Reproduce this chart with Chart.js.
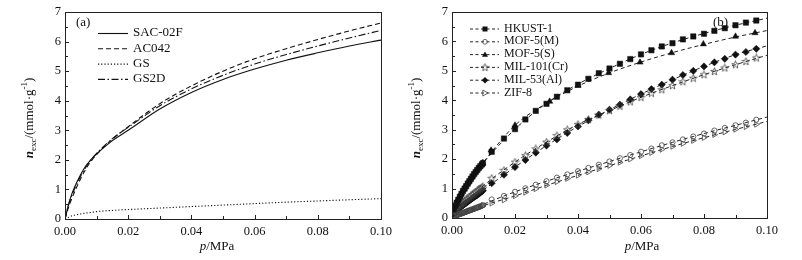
<!DOCTYPE html>
<html>
<head>
<meta charset="utf-8">
<script src="https://cdn.jsdelivr.net/npm/chart.js@4.4.1/dist/chart.umd.min.js"></script>
<style>
html, body { margin: 0; padding: 0; background: #fff; }
#wrap { position: relative; width: 802px; height: 260px; }
#chartA { position: absolute; left: 0; top: 0; width: 400px; height: 260px; }
#chartB { position: absolute; left: 400px; top: 0; width: 402px; height: 260px; }
</style>
</head>
<body>
<div id="wrap">
  <canvas id="chartA" width="400" height="260"></canvas>
  <canvas id="chartB" width="402" height="260"></canvas>
</div>
<script>
// ---- (a) carbon adsorbents, fitted isotherms ----
const pA = [0, 0.001, 0.002, 0.004, 0.006, 0.008, 0.01, 0.015, 0.02, 0.03, 0.04, 0.05, 0.06, 0.07, 0.08, 0.09, 0.1];
const sac02f = [0, 0.45, 0.8, 1.3, 1.7, 1.98, 2.2, 2.65, 3.0, 3.72, 4.28, 4.72, 5.07, 5.37, 5.62, 5.85, 6.05];
const ac042 = [0, 0.35, 0.65, 1.15, 1.58, 1.92, 2.18, 2.7, 3.12, 3.9, 4.5, 5.0, 5.42, 5.76, 6.07, 6.36, 6.63];
const gs = [0, 0.05, 0.1, 0.15, 0.19, 0.22, 0.25, 0.29, 0.32, 0.37, 0.42, 0.47, 0.52, 0.57, 0.61, 0.65, 0.69];
const gs2d = [0, 0.42, 0.75, 1.25, 1.65, 1.97, 2.22, 2.72, 3.1, 3.83, 4.4, 4.86, 5.24, 5.56, 5.85, 6.12, 6.38];

// ---- (b) MOFs, measured points + fitted lines ----
const pLow = [0.0005, 0.001, 0.0015, 0.002, 0.0025, 0.003, 0.0035, 0.004, 0.0045, 0.005, 0.0055, 0.006, 0.0065, 0.007, 0.0075, 0.008, 0.0085, 0.009, 0.0095, 0.0098];
const pHigh = [0.0126, 0.0165, 0.02, 0.0233, 0.0266, 0.03, 0.0333, 0.0366, 0.04, 0.0433, 0.0466, 0.05, 0.0533, 0.0566, 0.06, 0.0633, 0.0666, 0.07, 0.0733, 0.0766, 0.08, 0.0833, 0.0866, 0.09, 0.0933, 0.0966];
const pMof5S = [0.0124, 0.02, 0.031, 0.04, 0.0497, 0.0597, 0.0697, 0.0798, 0.09, 0.0962];

const hkustLow = [0.3, 0.42, 0.52, 0.62, 0.72, 0.82, 0.92, 1.0, 1.08, 1.17, 1.25, 1.33, 1.41, 1.49, 1.56, 1.63, 1.7, 1.76, 1.82, 1.86];
const hkustHigh = [2.25, 2.7, 3.02, 3.35, 3.64, 3.88, 4.12, 4.34, 4.53, 4.73, 4.92, 5.08, 5.24, 5.4, 5.56, 5.7, 5.83, 5.94, 6.07, 6.17, 6.26, 6.36, 6.45, 6.55, 6.64, 6.71];
const mof5mLow = [0.06, 0.08, 0.1, 0.12, 0.14, 0.16, 0.18, 0.2, 0.22, 0.24, 0.26, 0.28, 0.3, 0.32, 0.34, 0.36, 0.38, 0.4, 0.42, 0.44];
const mof5mHigh = [0.63, 0.75, 0.89, 1.01, 1.13, 1.25, 1.37, 1.48, 1.59, 1.7, 1.81, 1.92, 2.03, 2.14, 2.25, 2.36, 2.47, 2.57, 2.67, 2.77, 2.87, 2.97, 3.06, 3.15, 3.24, 3.34];
const mof5sLow = [0.32, 0.45, 0.56, 0.66, 0.76, 0.86, 0.95, 1.04, 1.12, 1.2, 1.28, 1.36, 1.44, 1.51, 1.58, 1.65, 1.72, 1.78, 1.84, 1.88];
const mof5sHigh = [2.3, 3.15, 3.96, 4.5, 4.93, 5.29, 5.61, 5.91, 6.17, 6.29];
const mil101Low = [0.2, 0.26, 0.32, 0.37, 0.42, 0.47, 0.52, 0.57, 0.62, 0.66, 0.71, 0.75, 0.8, 0.84, 0.88, 0.92, 0.96, 1.0, 1.04, 1.07];
const mil101High = [1.35, 1.62, 1.9, 2.12, 2.35, 2.58, 2.8, 3.0, 3.18, 3.35, 3.5, 3.65, 3.8, 3.95, 4.1, 4.24, 4.36, 4.5, 4.63, 4.75, 4.87, 4.98, 5.1, 5.21, 5.32, 5.44];
const mil53Low = [0.15, 0.2, 0.25, 0.3, 0.35, 0.39, 0.43, 0.47, 0.51, 0.55, 0.59, 0.63, 0.67, 0.71, 0.74, 0.78, 0.82, 0.86, 0.9, 0.93];
const mil53High = [1.18, 1.47, 1.73, 1.97, 2.22, 2.46, 2.67, 2.89, 3.11, 3.32, 3.51, 3.68, 3.85, 4.03, 4.21, 4.38, 4.53, 4.7, 4.86, 5.0, 5.15, 5.29, 5.41, 5.55, 5.64, 5.75];
const zif8Low = [0.03, 0.05, 0.07, 0.09, 0.11, 0.13, 0.15, 0.17, 0.19, 0.21, 0.23, 0.25, 0.27, 0.29, 0.31, 0.33, 0.35, 0.37, 0.39, 0.41];
const zif8High = [0.5, 0.61, 0.75, 0.87, 0.99, 1.11, 1.23, 1.34, 1.45, 1.56, 1.67, 1.78, 1.89, 2.0, 2.11, 2.22, 2.33, 2.43, 2.53, 2.63, 2.73, 2.83, 2.92, 3.01, 3.1, 3.18];

const pFit = [0, 0.0025, 0.005, 0.01, 0.02, 0.03, 0.04, 0.05, 0.06, 0.07, 0.08, 0.09, 0.1];
const hkustFit = [0.1, 0.72, 1.17, 1.88, 3.02, 3.9, 4.55, 5.08, 5.56, 5.95, 6.27, 6.55, 6.79];
const mof5mFit = [0, 0.15, 0.26, 0.47, 0.89, 1.25, 1.59, 1.92, 2.25, 2.57, 2.87, 3.15, 3.43];
const mof5sFit = [0.1, 0.76, 1.2, 1.9, 3.15, 3.9, 4.48, 4.93, 5.3, 5.62, 5.9, 6.15, 6.37];
const mil101Fit = [0.05, 0.35, 0.6, 1.1, 1.9, 2.58, 3.18, 3.65, 4.1, 4.5, 4.87, 5.21, 5.53];
const mil53Fit = [0, 0.28, 0.5, 0.95, 1.73, 2.46, 3.11, 3.68, 4.21, 4.7, 5.15, 5.55, 5.85];
const zif8Fit = [0, 0.12, 0.22, 0.42, 0.75, 1.11, 1.45, 1.78, 2.11, 2.43, 2.73, 3.01, 3.28];

const serif = '"Liberation Serif", "Times New Roman", serif';
const ink = '#111';

function pts(xs, ys) { return xs.map((x, i) => ({ x: x, y: ys[i] })); }

// small open star used as marker for MIL-101(Cr)
const starImg = document.createElement('canvas');
starImg.width = 9; starImg.height = 9;
(function () {
    const c = starImg.getContext('2d');
    c.beginPath();
    for (let i = 0; i < 10; i++) {
        const r = i % 2 === 0 ? 4 : 1.7;
        const a = -Math.PI / 2 + i * Math.PI / 5;
        const px = 4.5 + r * Math.cos(a), py = 4.7 + r * Math.sin(a);
        if (i === 0) c.moveTo(px, py); else c.lineTo(px, py);
    }
    c.closePath();
    c.strokeStyle = '#444';
    c.lineWidth = 0.8;
    c.stroke();
})();

// frame, inward ticks, axis titles, legend, panel tag
function decor(cfg) {
    return {
        id: 'decor',
        afterDraw(chart) {
            const ctx = chart.ctx, a = chart.chartArea;
            const xs = chart.scales.x, ys = chart.scales.y;
            ctx.save();
            ctx.strokeStyle = '#222';
            ctx.lineWidth = 1;
            ctx.strokeRect(Math.round(a.left) + 0.5, Math.round(a.top) + 0.5, Math.round(a.right - a.left), Math.round(a.bottom - a.top));
            ctx.beginPath();
            for (let k = 1; k < 10; k++) {
                const px = Math.round(xs.getPixelForValue(k / 100)) + 0.5;
                const len = k % 2 === 0 ? 4 : 3;
                ctx.moveTo(px, a.bottom); ctx.lineTo(px, a.bottom - len);
            }
            for (let k = 1; k < 14; k++) {
                const py = Math.round(ys.getPixelForValue(k / 2)) + 0.5;
                const len = k % 2 === 0 ? 4 : 3;
                ctx.moveTo(a.left, py); ctx.lineTo(a.left + len, py);
            }
            ctx.stroke();

            // x title: p/MPa
            ctx.fillStyle = ink;
            ctx.textBaseline = 'middle';
            ctx.font = 'italic 13px ' + serif;
            const w1 = ctx.measureText('p').width;
            ctx.font = '13px ' + serif;
            const w2 = ctx.measureText('/MPa').width;
            let x0 = cfg.xTitleX - (w1 + w2) / 2;
            ctx.font = 'italic 13px ' + serif;
            ctx.fillText('p', x0, 247);
            ctx.font = '13px ' + serif;
            ctx.fillText('/MPa', x0 + w1, 247);

            // y title: n_exc/(mmol·g-1)
            ctx.save();
            ctx.translate(cfg.yTitleX, 118);
            ctx.rotate(-Math.PI / 2);
            const parts = [
                ['n', 'italic bold 13px ' + serif, 0],
                ['exc', '9px ' + serif, 4],
                ['/(mmol·g', '13px ' + serif, 0],
                ['-1', '9px ' + serif, -5],
                [')', '13px ' + serif, 0]
            ];
            let tw = 0;
            parts.forEach(p => { ctx.font = p[1]; tw += ctx.measureText(p[0]).width; });
            let cx = -tw / 2;
            parts.forEach(p => {
                ctx.font = p[1];
                ctx.fillText(p[0], cx, p[2]);
                cx += ctx.measureText(p[0]).width;
            });
            ctx.restore();

            // panel tag
            ctx.font = '13px ' + serif;
            ctx.fillText(cfg.tag, cfg.tagX, 23);

            cfg.legend(ctx);
            ctx.restore();
        }
    };
}

function baseScales(rightPad) {
    return {
        x: {
            type: 'linear', min: 0, max: 0.1,
            afterFit(s) { s.height = 41; },
            grid: { display: false, drawTicks: false },
            border: { display: false },
            ticks: { stepSize: 0.02, padding: 5, color: ink, font: { family: serif, size: 12.5 },
                     callback: v => v.toFixed(2), maxRotation: 0 }
        },
        y: {
            type: 'linear', min: 0, max: 7,
            grid: { display: false, drawTicks: false },
            border: { display: false },
            ticks: { stepSize: 1, padding: 4, color: ink, font: { family: serif, size: 12.5 } }
        }
    };
}

// ---- panel (a) ----
const legendA = [
    ['SAC-02F', []],
    ['AC042', [5, 3]],
    ['GS', [1.2, 2]],
    ['GS2D', [7, 2.5, 1.5, 2.5]]
];
const scalesA = baseScales();
scalesA.y.afterFit = s => { s.width = 65; };

new Chart(document.getElementById('chartA'), {
    type: 'scatter',
    data: {
        datasets: [sac02f, ac042, gs, gs2d].map((vals, i) => ({
            label: legendA[i][0],
            data: pts(pA, vals),
            showLine: true,
            borderColor: ink,
            borderWidth: 1.1,
            borderDash: legendA[i][1],
            pointRadius: 0,
            cubicInterpolationMode: 'monotone'
        }))
    },
    options: {
        responsive: false,
        devicePixelRatio: 1,
        animation: false,
        layout: { autoPadding: false, padding: { left: 0, right: 19, top: 12, bottom: 0 } },
        plugins: { legend: { display: false }, tooltip: { enabled: false } },
        scales: scalesA
    },
    plugins: [decor({
        xTitleX: 217, yTitleX: 30, tag: '(a)', tagX: 76,
        legend(ctx) {
            legendA.forEach((row, i) => {
                const y = 33 + i * 15.3;
                ctx.beginPath();
                ctx.setLineDash(row[1]);
                ctx.lineWidth = 1.1;
                ctx.strokeStyle = ink;
                ctx.moveTo(98, y + 0.5); ctx.lineTo(128, y + 0.5);
                ctx.stroke();
                ctx.setLineDash([]);
                ctx.font = '13px ' + serif;
                ctx.fillText(row[0], 133, y);
            });
        }
    })]
});

// ---- panel (b) ----
const namesB = ['HKUST-1', 'MOF-5(M)', 'MOF-5(S)', 'MIL-101(Cr)', 'MIL-53(Al)', 'ZIF-8'];
const marks = [
    { pointStyle: 'rect', pointRadius: 3.8, backgroundColor: ink, borderColor: ink, borderWidth: 0.5 },
    { pointStyle: 'circle', pointRadius: 2.6, backgroundColor: 'rgba(0,0,0,0)', borderColor: '#444', borderWidth: 0.8 },
    { pointStyle: 'triangle', pointRadius: 3.6, backgroundColor: ink, borderColor: ink, borderWidth: 0.5 },
    { pointStyle: starImg },
    { pointStyle: 'rectRot', pointRadius: 3.6, backgroundColor: ink, borderColor: ink, borderWidth: 0.5 },
    { pointStyle: 'triangle', pointRotation: 90, pointRadius: 3.2, backgroundColor: 'rgba(0,0,0,0)', borderColor: '#444', borderWidth: 0.8 }
];
const measured = [
    pts(pLow.concat(pHigh), hkustLow.concat(hkustHigh)),
    pts(pLow.concat(pHigh), mof5mLow.concat(mof5mHigh)),
    pts(pLow.concat(pMof5S), mof5sLow.concat(mof5sHigh)),
    pts(pLow.concat(pHigh), mil101Low.concat(mil101High)),
    pts(pLow.concat(pHigh), mil53Low.concat(mil53High)),
    pts(pLow.concat(pHigh), zif8Low.concat(zif8High))
];
const fits = [hkustFit, mof5mFit, mof5sFit, mil101Fit, mil53Fit, zif8Fit];

const dsB = [];
measured.forEach((d, i) => {
    dsB.push(Object.assign({ label: namesB[i], data: d, showLine: false }, marks[i]));
});
fits.forEach((f, i) => {
    dsB.push({
        label: namesB[i] + ' fit', data: pts(pFit, f), showLine: true,
        borderColor: '#222', borderWidth: 1, borderDash: [4, 3], pointRadius: 0,
        cubicInterpolationMode: 'monotone'
    });
});

function legendMark(ctx, i, x, y) {
    ctx.save();
    ctx.fillStyle = ink; ctx.strokeStyle = '#444'; ctx.lineWidth = 0.8;
    ctx.beginPath();
    if (i === 0) { ctx.fillRect(x - 2.5, y - 2.5, 5, 5); }
    else if (i === 1) { ctx.arc(x, y, 2.4, 0, Math.PI * 2); ctx.stroke(); }
    else if (i === 2) { ctx.moveTo(x, y - 3); ctx.lineTo(x + 3, y + 2.2); ctx.lineTo(x - 3, y + 2.2); ctx.closePath(); ctx.fill(); }
    else if (i === 3) { ctx.drawImage(starImg, x - 4.5, y - 4.5); }
    else if (i === 4) { ctx.moveTo(x, y - 3.3); ctx.lineTo(x + 3.3, y); ctx.lineTo(x, y + 3.3); ctx.lineTo(x - 3.3, y); ctx.closePath(); ctx.fill(); }
    else { ctx.moveTo(x + 3, y); ctx.lineTo(x - 2.2, y - 3); ctx.lineTo(x - 2.2, y + 3); ctx.closePath(); ctx.stroke(); }
    ctx.restore();
}

const scalesB = baseScales();
scalesB.y.afterFit = s => { s.width = 52; };
scalesB.x.afterFit = s => { s.height = 42; };

new Chart(document.getElementById('chartB'), {
    type: 'scatter',
    data: { datasets: dsB },
    options: {
        responsive: false,
        devicePixelRatio: 1,
        animation: false,
        layout: { autoPadding: false, padding: { left: 0, right: 35, top: 12, bottom: 0 } },
        plugins: { legend: { display: false }, tooltip: { enabled: false } },
        scales: scalesB
    },
    plugins: [decor({
        xTitleX: 242, yTitleX: 17, tag: '(b)', tagX: 313,
        legend(ctx) {
            namesB.forEach((name, i) => {
                const y = 28.5 + i * 12.8;
                ctx.beginPath();
                ctx.setLineDash([3, 2.5]);
                ctx.lineWidth = 1;
                ctx.strokeStyle = '#222';
                ctx.moveTo(70, y + 0.5); ctx.lineTo(99, y + 0.5);
                ctx.stroke();
                ctx.setLineDash([]);
                legendMark(ctx, i, 85, y + 0.5);
                ctx.font = '12px ' + serif;
                ctx.fillStyle = ink;
                ctx.fillText(name, 104, y);
            });
        }
    })]
});
</script>
</body>
</html>
